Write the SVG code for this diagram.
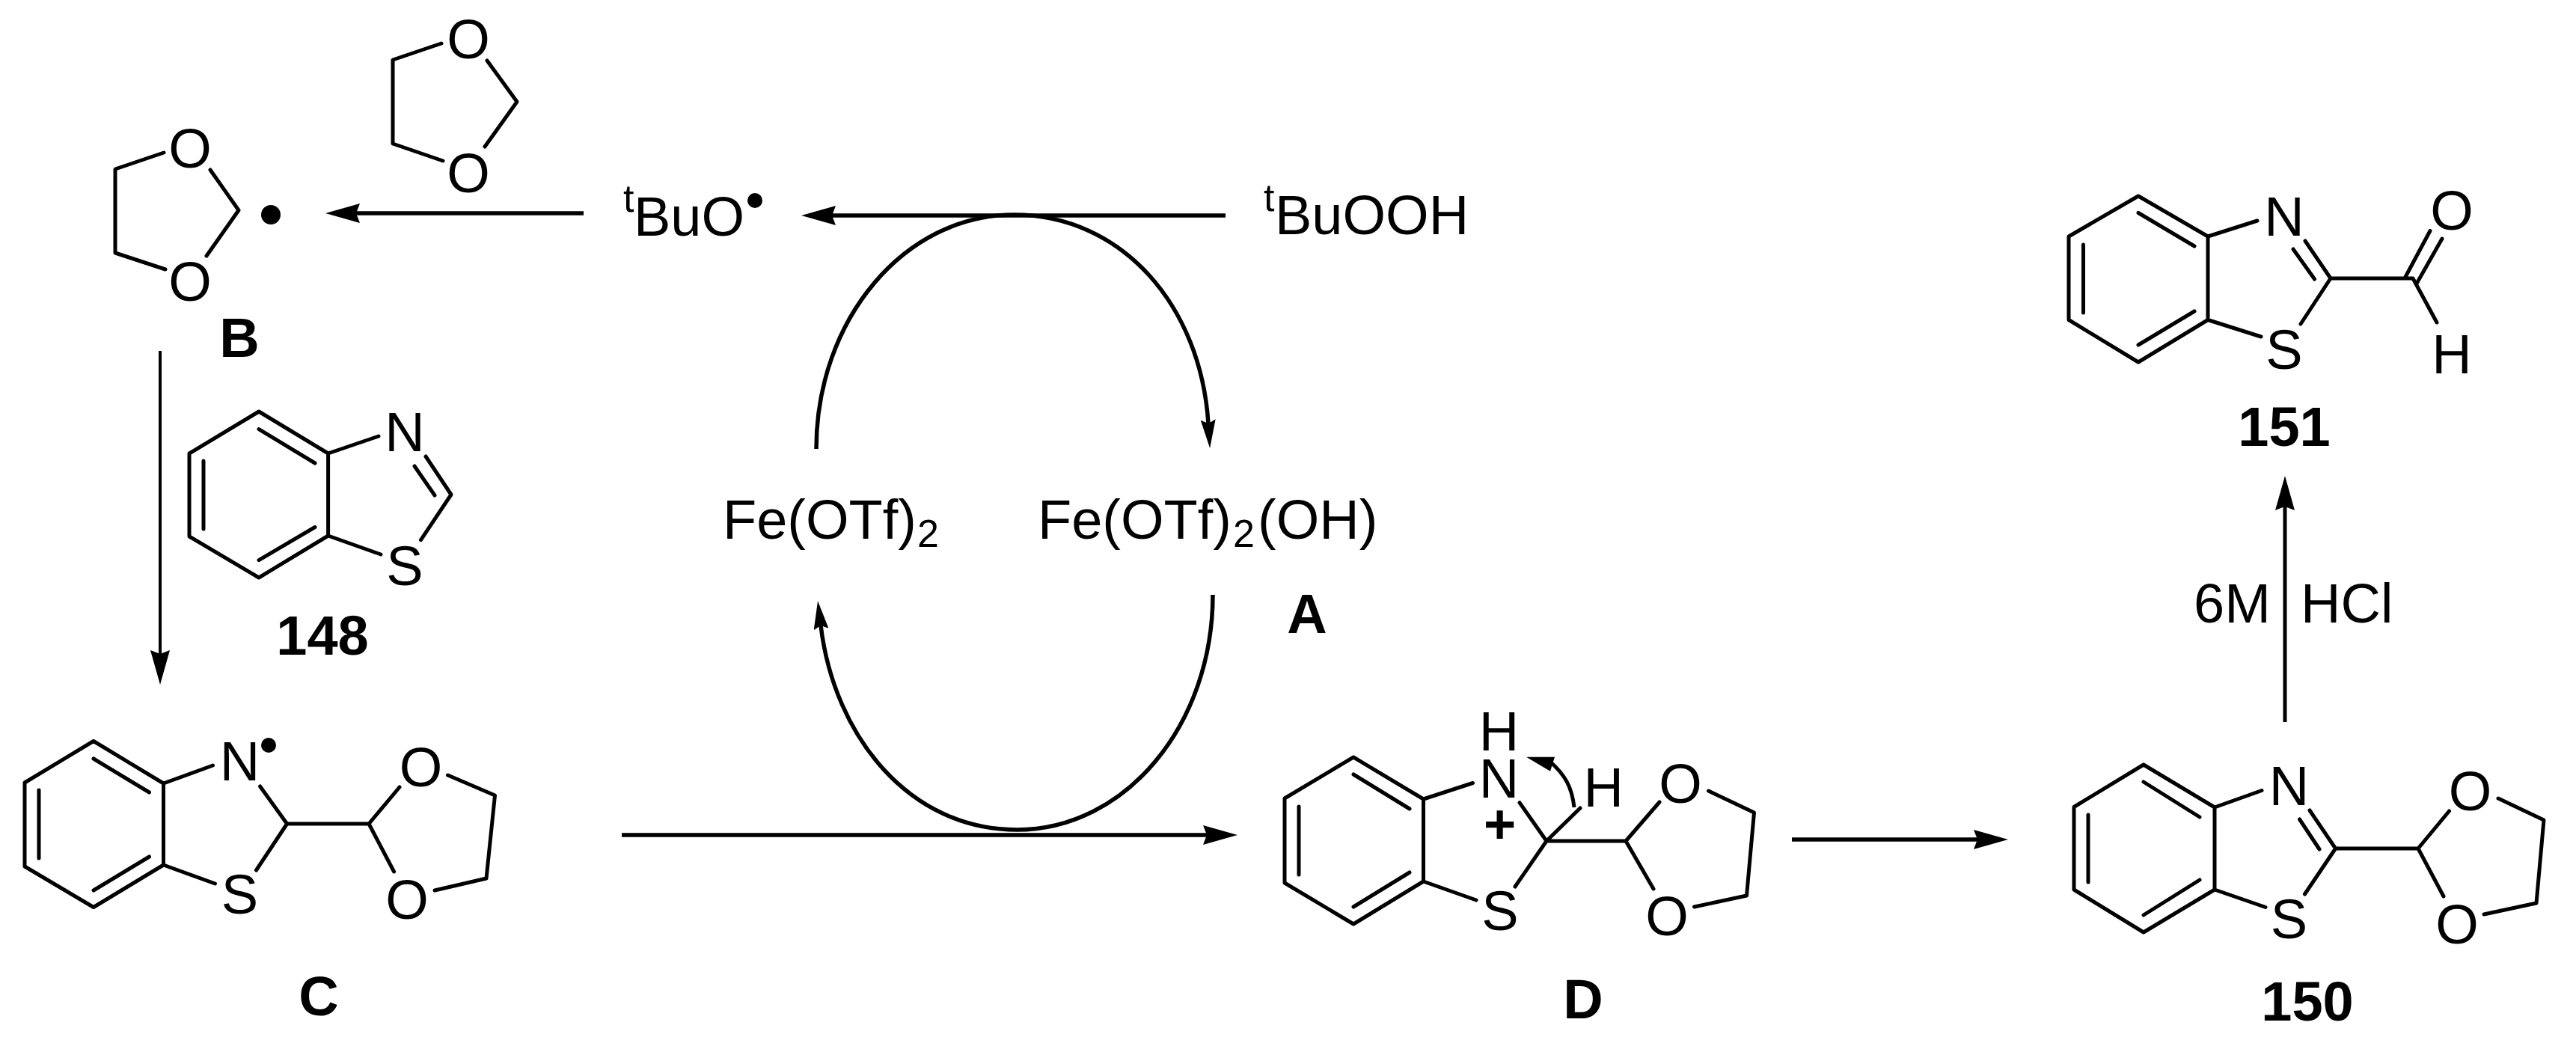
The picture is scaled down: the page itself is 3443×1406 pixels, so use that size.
<svg xmlns="http://www.w3.org/2000/svg" width="3443" height="1406" viewBox="0 0 3443 1406">
<style>
text{font-family:"Liberation Sans",Arial,sans-serif;fill:#000;font-size:74px}
.a{text-anchor:middle}
.l{text-anchor:middle;font-weight:bold}
.sup,.sub{font-size:52px}
.b{fill:none;stroke:#000;stroke-width:5;stroke-linecap:round;stroke-linejoin:round}
.c{fill:none;stroke:#000;stroke-width:5.5}
.t{fill:none;stroke:#000;stroke-width:4}
.dot{fill:#000}
</style>
<defs>
<marker id="ah" markerUnits="userSpaceOnUse" viewBox="0 0 46 26" markerWidth="46" markerHeight="26" refX="5" refY="13" orient="auto"><polygon points="0,0 46,13 0,26 5,13"/></marker>
<marker id="as" markerUnits="userSpaceOnUse" viewBox="0 0 38 20" markerWidth="38" markerHeight="20" refX="5" refY="10" orient="auto"><polygon points="0,0 38,10 0,20 5,10"/></marker>
</defs>
<rect width="3443" height="1406" fill="#fff"/>
<g id="connectors">
<path class="c" marker-end="url(#ah)" d="M780,285H476"/>
<path class="c" marker-end="url(#ah)" d="M1638,288H1112"/>
<path class="t" marker-end="url(#ah)" d="M214,469V874"/>
<path class="c" marker-end="url(#ah)" d="M831,1116H1613"/>
<path class="c" marker-end="url(#ah)" d="M2395,1122H2643"/>
<path class="b" style="stroke-linecap:butt" marker-end="url(#ah)" d="M3054,965V677"/>
<path class="c" marker-end="url(#as)" d="M1091,600C1091,427 1209,287 1355,287C1501,287 1605,410 1615,566"/>
<path class="c" marker-end="url(#as)" d="M1621,795C1621,968 1505,1109 1359,1109C1216,1109 1115,985 1097,836"/>
<path class="b" style="stroke-linecap:butt" d="M2104,1079C2101,1052 2092,1036 2072,1018"/>
<polygon points="2040,1011.700 2078,1011.700 2072,1030.700"/>
</g>
<g id="dioxolane">
<path class="b" d="M590,58L525,80V192L592,215M651,81L691,136L648,196"/>
<text class="a" x="626" y="78">O</text>
<text class="a" x="626" y="257">O</text>
</g>
<g id="B">
<path class="b" d="M219,204L154,226V338L221,360M281,227L319,281L276,342"/>
<text class="a" x="254" y="224">O</text>
<text class="a" x="254" y="402">O</text>
<circle class="dot" cx="362" cy="287" r="13"/>
<text class="l" x="320" y="477">B</text>
</g>
<g id="tBuO">
<text class="sup" x="833" y="283">t</text>
<text x="847" y="315">BuO</text>
<circle class="dot" cx="1009" cy="268" r="10"/>
</g>
<g id="tBuOOH">
<text class="sup" x="1689" y="282">t</text>
<text x="1704" y="313">BuOOH</text>
</g>
<g id="FeOTf2">
<text x="966" y="720">Fe(OTf)</text>
<text class="sub" x="1226" y="731">2</text>
</g>
<g id="A">
<text x="1387" y="720">Fe(OTf)</text>
<text class="sub" x="1648" y="731">2</text>
<text x="1681" y="720">(OH)</text>
<text class="l" x="1747" y="846">A</text>
</g>
<g id="m148">
<path class="b" d="M346,550L438.6,606V716L346,772L253,717V606ZM346,573.6L421,619M272,616V707M346,748.6L421,704.5M438.6,606L506,583M569,610L603,661L562.5,721.6M554,623L581,662M438.6,716L509,741"/>
<text class="a" x="541" y="603">N</text>
<text class="a" x="541" y="782">S</text>
<text class="l" x="431" y="875">148</text>
</g>
<g id="C">
<path class="b" d="M125,990.5L218.5,1047V1156L125,1212.5L33,1158V1046ZM125,1014L199.5,1059M52,1056V1147M125,1190L199.5,1145M218.5,1047L284.5,1023M218.5,1156L287.5,1181M347.6,1051L383.6,1101L342.5,1163M383.6,1101H493L534,1052M493,1101L526.6,1165M598.5,1036L661.5,1063L650,1174L581,1190"/>
<text class="a" x="320.500" y="1043">N</text>
<circle class="dot" cx="359" cy="996" r="10"/>
<text class="a" x="320.500" y="1221">S</text>
<text class="a" x="562.500" y="1051">O</text>
<text class="a" x="544" y="1228">O</text>
<text class="l" x="426" y="1357">C</text>
</g>
<g id="D">
<path class="b" d="M1809,1012L1902.500,1068V1178L1809,1235L1717,1180V1067ZM1809,1035L1884,1081M1736,1078V1169M1809,1212L1884,1166M1902.500,1068L1968.500,1046.500M1902.500,1178L1973,1203M2031,1072.700L2067,1124L2025,1185M2067,1124L2112,1080M2067,1124H2173L2218,1072M2173,1124L2210,1188M2283.500,1057L2344.500,1086L2334.500,1197L2264.500,1212"/>
<text class="a" x="2003.500" y="1066">N</text>
<text class="a" x="2003.500" y="1003">H</text>
<text class="a" x="2143.300" y="1077.700">H</text>
<text class="a" x="2005" y="1243">S</text>
<text class="a" x="2246" y="1073">O</text>
<text class="a" x="2228" y="1250">O</text>
<text class="l" x="2004.500" y="1127">+</text>
<text class="l" x="2116" y="1361">D</text>
</g>
<g id="m150">
<path class="b" d="M2865,1022L2960,1079V1189L2865,1246L2772,1189V1078.500ZM2865,1045L2940,1092M2791,1089V1179M2865,1223L2940,1176M2960,1079L3023,1056.500M2960,1189L3028,1212.500M3087,1083L3121.600,1134L3080.500,1195M3073.500,1095L3100,1135M3121.600,1134H3232L3273.500,1084M3232,1134L3266,1198M3339,1067L3400,1096L3390,1207L3320,1222"/>
<text class="a" x="3059.500" y="1076">N</text>
<text class="a" x="3059.500" y="1254">S</text>
<text class="a" x="3301.500" y="1083">O</text>
<text class="a" x="3284" y="1261">O</text>
<text class="l" x="3084" y="1364">150</text>
</g>
<g id="m151">
<path class="b" d="M2858,262L2951,316V427.500L2858,484L2765,427.500V316ZM2858,284.500L2933,329M2784.500,327V418M2858,461L2933,416M2951,316L3017,295M2951,427.500L3022,450M3081,322L3115,372L3075,433M3065,333L3093.500,373M3115,372H3225L3257,431M3248,308.500L3214,372M3264,319L3230,379"/>
<text class="a" x="3053" y="315">N</text>
<text class="a" x="3053" y="493">S</text>
<text class="a" x="3277" y="307">O</text>
<text class="a" x="3277" y="499">H</text>
<text class="l" x="3053" y="596">151</text>
</g>
<g id="reagent">
<text x="2932" y="832">6M</text>
<text x="3075" y="832">HCl</text>
</g>
</svg>
